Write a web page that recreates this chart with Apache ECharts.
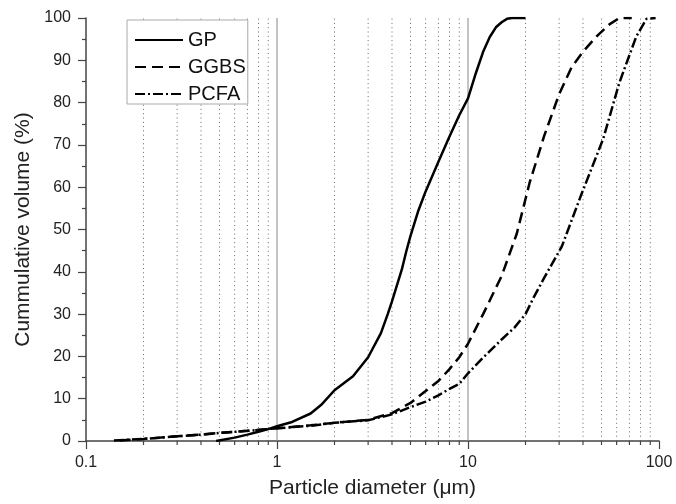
<!doctype html>
<html>
<head>
<meta charset="utf-8">
<title>Particle size distribution</title>
<script src="https://cdn.jsdelivr.net/npm/echarts@6/dist/echarts.min.js"></script>
<style>
  html, body { margin: 0; padding: 0; background: #fff; }
  #main { width: 676px; height: 504px; }
</style>
</head>
<body>
<div id="main"></div>
<script>
// values
var gpX = [0.48, 0.6, 0.7, 0.8, 0.9, 1.0, 1.2, 1.5, 1.7, 2.0, 2.5, 3.0, 3.5, 3.8, 4.0, 4.5, 4.75, 5.0, 5.5, 6.0, 7.0, 8.0, 9.0, 10, 11, 12, 13, 14, 15, 16, 17, 20];
var gpY = [0, 0.8, 1.5, 2.2, 2.8, 3.5, 4.5, 6.5, 8.5, 12, 15.3, 19.8, 25.5, 30, 33, 40.5, 44.8, 48.5, 54.5, 59, 66, 72, 77, 81, 87, 92, 95.5, 97.8, 99, 99.8, 100, 100];

var ggbsX = [0.15, 0.2, 0.3, 0.5, 0.7, 1, 1.5, 2, 3, 4, 5, 6, 7, 8, 9, 10, 12, 15, 18, 21, 25, 30, 35, 40, 47, 55, 62, 72];
var ggbsY = [0.1, 0.5, 1.1, 1.9, 2.4, 3.0, 3.7, 4.3, 5.0, 6.6, 9.0, 11.8, 14.2, 17, 19.8, 23, 30, 39, 49, 61, 72, 82, 88.5, 92, 95.6, 98.5, 100, 100];

var pcfaX = [0.14, 0.2, 0.3, 0.4, 0.5, 0.7, 1, 1.5, 2, 3, 4, 5, 6, 7, 8, 9, 10, 12, 15, 17.5, 20, 22, 25, 31, 39, 51, 62, 76, 86, 96];
var pcfaY = [0.1, 0.5, 1.1, 1.5, 1.9, 2.4, 3.0, 3.6, 4.3, 4.9, 6.3, 8.0, 9.3, 10.8, 12.3, 13.5, 16, 19.7, 24, 26.8, 30, 33.8, 38.5, 46, 58, 71.4, 84.7, 95.6, 99.8, 100];

var minorX = [0.2, 0.3, 0.4, 0.5, 0.6, 0.7, 0.8, 0.9, 2, 3, 4, 5, 6, 7, 8, 9, 20, 30, 40, 50, 60, 70, 80, 90];
var majorX = [1, 10];

function pairs(xs, ys) {
    return xs.map(function (x, i) { return [x, ys[i]]; });
}

var gridData = minorX.map(function (x) { return [x, 0]; })
    .concat(majorX.map(function (x) { return [x, 1]; }));

var myChart = echarts.init(document.getElementById('main'));

var font = '"Liberation Sans", Arial, sans-serif';

var option = {
    animation: false,
    backgroundColor: '#fff',
    grid: { left: 86, right: 17, top: 18, bottom: 60 },
    legend: {
        orient: 'vertical',
        left: 127,
        top: 20,
        itemWidth: 48,
        itemHeight: 14,
        itemGap: 7,
        padding: [10, 2, 0, 7],
        backgroundColor: '#fff',
        borderColor: '#aaa',
        borderWidth: 1,
        borderRadius: 0,
        itemStyle: { opacity: 0 },
        textStyle: { fontFamily: font, fontSize: 20, color: '#111' },
        data: ['GP', 'GGBS', 'PCFA']
    },
    xAxis: {
        type: 'log',
        logBase: 10,
        min: 0.1,
        max: 100,
        name: 'Particle diameter (\u03bcm)',
        nameLocation: 'middle',
        nameGap: 37,
        nameTextStyle: { fontFamily: font, fontSize: 21, color: '#222' },
        axisLine: { lineStyle: { color: '#444', width: 1.5 } },
        axisTick: { length: 8, lineStyle: { color: '#444', width: 1.2 } },
        axisLabel: { fontFamily: font, fontSize: 16, color: '#222', margin: 14 },
        splitLine: { show: false }
    },
    yAxis: {
        type: 'value',
        min: 0,
        max: 100,
        interval: 10,
        name: 'Cummulative volume (%)',
        nameLocation: 'middle',
        nameGap: 51,
        nameTextStyle: { fontFamily: font, fontSize: 21, color: '#222' },
        axisLine: { show: true, lineStyle: { color: '#444', width: 1.5 } },
        axisTick: { show: true, length: 8, lineStyle: { color: '#444', width: 1.2 } },
        minorTick: { show: true, splitNumber: 2, length: 4, lineStyle: { color: '#444', width: 1.2 } },
        axisLabel: { fontFamily: font, fontSize: 16, color: '#222', margin: 15 },
        splitLine: { show: false }
    },
    series: [
        {
            type: 'custom',
            silent: true,
            z: 1,
            data: gridData,
            renderItem: function (params, api) {
                var x = api.value(0);
                var major = api.value(1) === 1;
                var bottom = api.coord([x, 0]);
                var top = api.coord([x, 100]);
                var children = [{
                    type: 'line',
                    shape: { x1: bottom[0], y1: bottom[1], x2: top[0], y2: top[1] },
                    style: major
                        ? { stroke: '#888', lineWidth: 1 }
                        : { stroke: '#666', lineWidth: 1, lineDash: [1, 3.3] }
                }];
                if (!major) {
                    children.push({
                        type: 'line',
                        shape: { x1: bottom[0], y1: bottom[1], x2: bottom[0], y2: bottom[1] + 4 },
                        style: { stroke: '#444', lineWidth: 1.2 }
                    });
                }
                return { type: 'group', children: children };
            }
        },
        {
            name: 'GP',
            type: 'line',
            z: 3,
            symbol: 'none',
            data: pairs(gpX, gpY),
            lineStyle: { color: '#000', width: 2.5, type: 'solid' },
            itemStyle: { color: '#000' }
        },
        {
            name: 'GGBS',
            type: 'line',
            z: 3,
            symbol: 'none',
            data: pairs(ggbsX, ggbsY),
            lineStyle: { color: '#000', width: 2.5, type: [11, 6] },
            itemStyle: { color: '#000' }
        },
        {
            name: 'PCFA',
            type: 'line',
            z: 3,
            symbol: 'none',
            data: pairs(pcfaX, pcfaY),
            lineStyle: { color: '#000', width: 2.5, type: [10, 3, 2, 3] },
            itemStyle: { color: '#000' }
        }
    ]
};

myChart.setOption(option);
</script>
</body>
</html>
